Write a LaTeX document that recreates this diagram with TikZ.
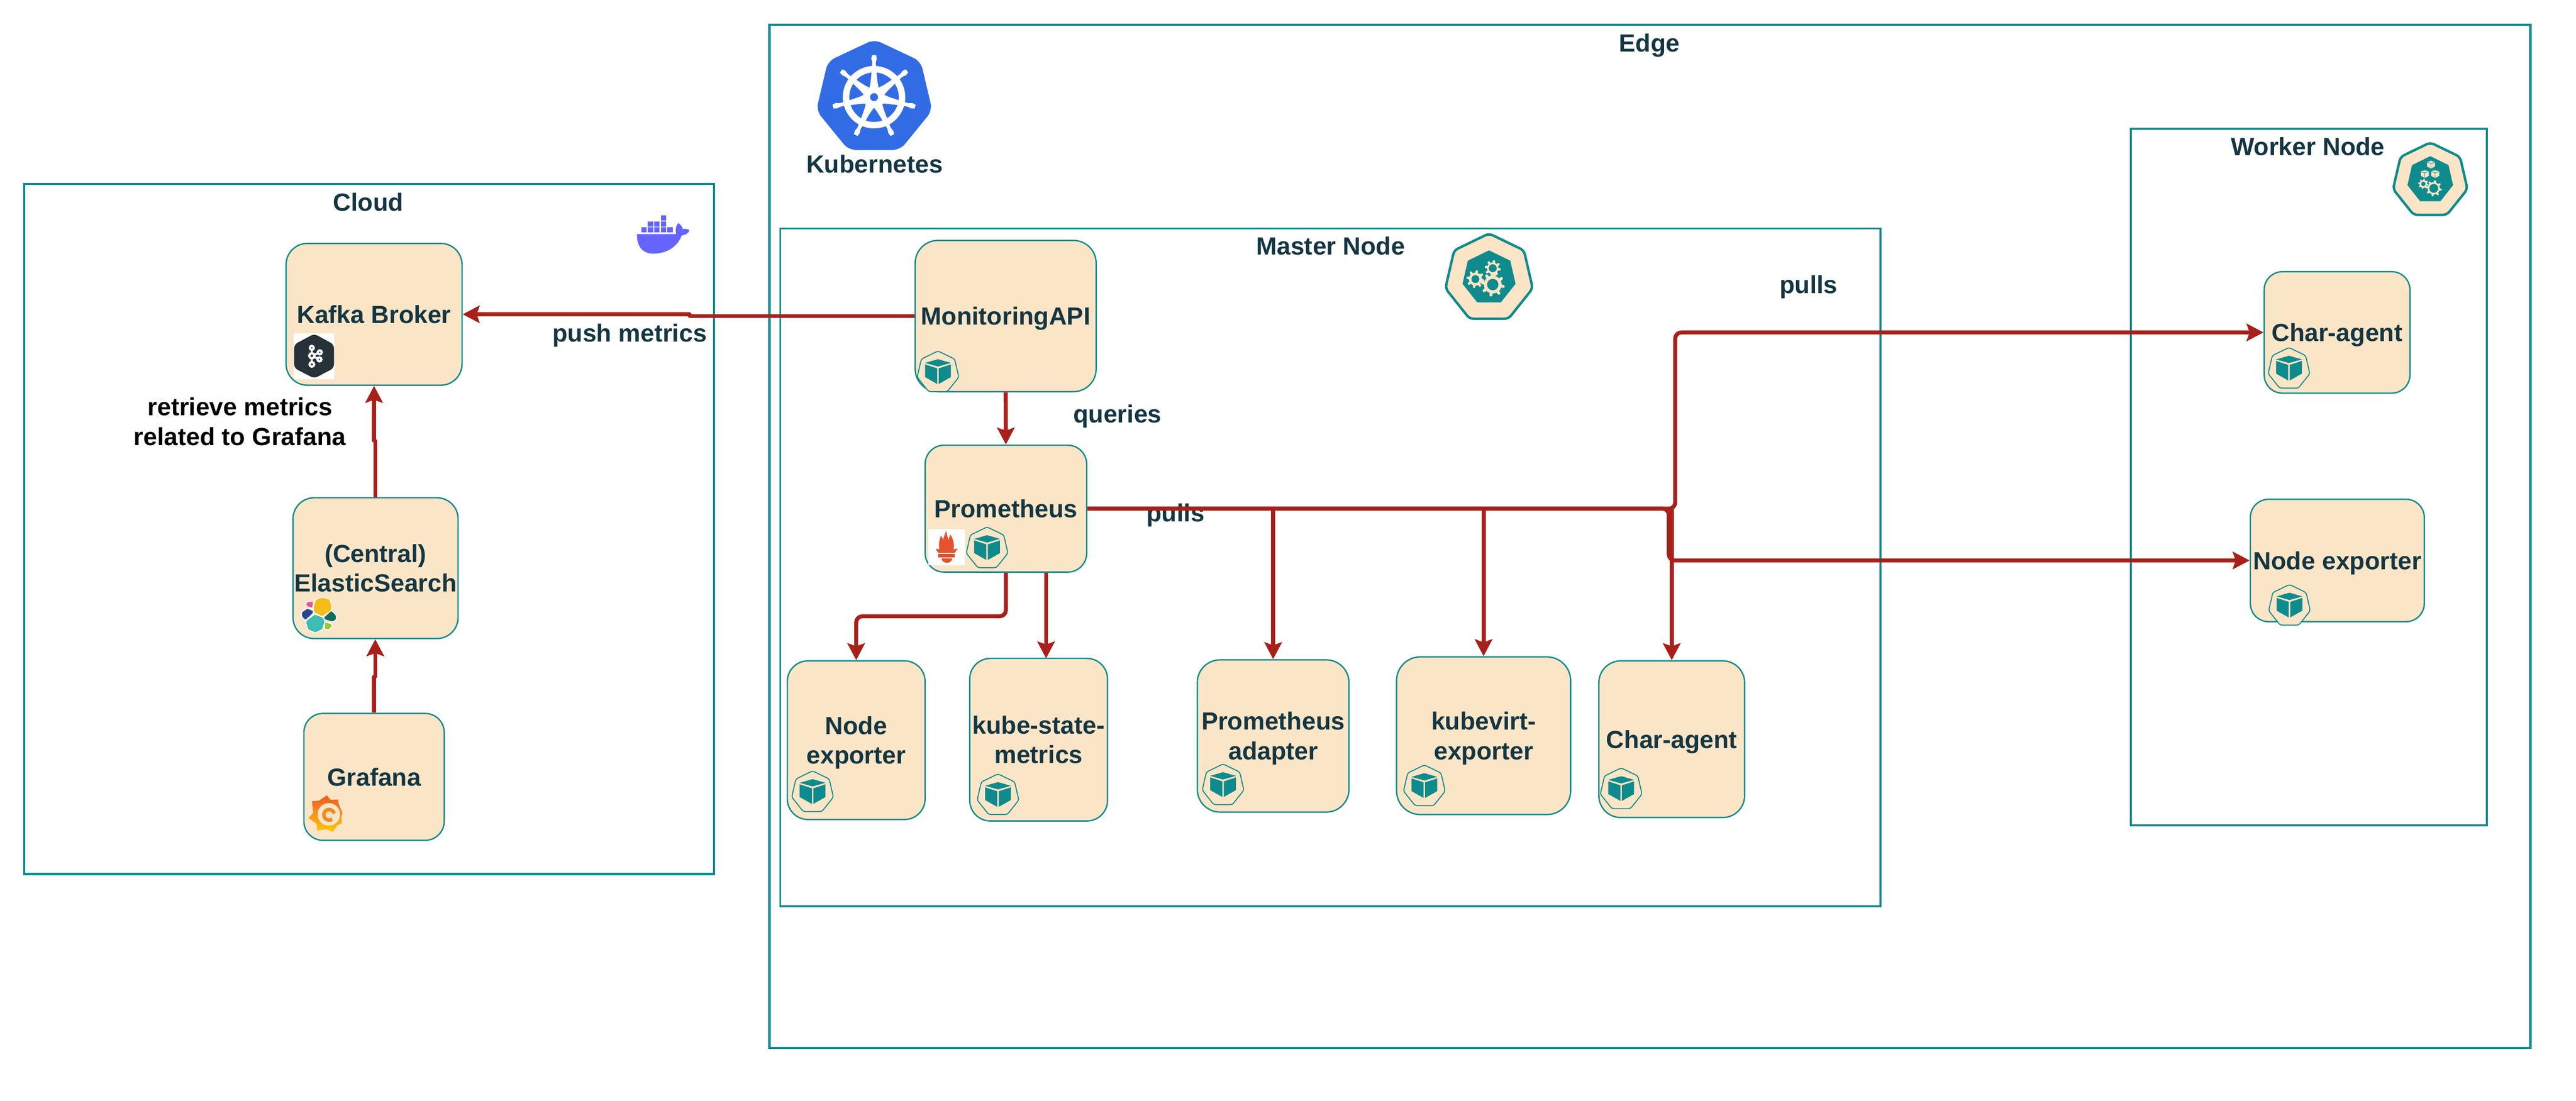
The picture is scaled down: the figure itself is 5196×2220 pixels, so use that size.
\documentclass[tikz,border=0pt]{standalone}
\usepackage{fontspec}
\setmainfont{Liberation Sans}
\usetikzlibrary{arrows.meta}
\definecolor{teal}{HTML}{0F8B8D}
\definecolor{sand}{HTML}{FAE5C7}
\definecolor{ink}{HTML}{143642}
\definecolor{wire}{HTML}{A8201A}
\definecolor{kblue}{HTML}{326CE5}
\definecolor{dockerc}{HTML}{6464FF}
\definecolor{kafkac}{HTML}{263238}
\definecolor{promc}{HTML}{E6522C}
\definecolor{elpink}{RGB}{239,80,152}
\definecolor{elyellow}{RGB}{244,189,25}
\definecolor{elblue}{RGB}{44,69,143}
\definecolor{elteal}{RGB}{62,190,176}
\definecolor{eldark}{RGB}{22,108,87}
\definecolor{ellime}{RGB}{147,200,62}
\definecolor{grtop}{RGB}{240,90,40}
\definecolor{grbot}{RGB}{251,202,10}
\definecolor{grmid}{RGB}{245,136,31}
\tikzset{
  lbl/.style={anchor=base,inner sep=0pt,align=center,text=ink,font=\fontsize{10}{12}\selectfont\bfseries},
  frame/.style={draw=teal,fill=none,inner sep=0pt,line width=0.9pt},
  svc/.style={draw=teal,fill=sand,line width=0.55pt,inner sep=0pt,align=center,text=ink,font=\fontsize{10}{12}\selectfont\bfseries},
  flow/.style={draw=wire,line width=1.6pt,rounded corners=2.5pt,-{Stealth[length=6.8pt,width=7pt,inset=1.2pt]}},
  jogflow/.style={flow,sharp corners,line join=round},
  podline/.style={draw=teal,fill=sand,line width=0.4pt,rounded corners=0.8pt}
}
\newcommand{\ls}{\rule[-2.4pt]{0pt}{12pt}}
% name x1 y1 x2 y2 text
\newcommand{\boxnode}[6]{%
  \pgfmathsetmacro{\rr}{0.03*min(#4-#2,#5-#3)}%
  \node[svc,rounded corners=\rr pt,minimum width={(#4-#2)*0.2pt},minimum height={(#5-#3)*0.2pt}] (#1) at ({(#2+#4)/2},{(#3+#5)/2}) {#6};}
\newcommand{\frameat}[6][]{%
  \node[frame,#1,minimum width={(#5-#3)*0.2pt},minimum height={(#6-#4)*0.2pt}] (#2) at ({(#3+#5)/2},{(#4+#6)/2}) {};}
% style cx cy w h
\newcommand{\hept}[5]{%
  \path[#1] ({#2},{#3-#5/2}) -- ({#2+.4*#4},{#3-#5/2+.198*#5}) -- ({#2+.5*#4},{#3-#5/2+.643*#5})
   -- ({#2+.2225*#4},{#3+#5/2}) -- ({#2-.2225*#4},{#3+#5/2}) -- ({#2-.5*#4},{#3-#5/2+.643*#5})
   -- ({#2-.4*#4},{#3-#5/2+.198*#5}) -- cycle;}
% colour cx cy scale
\newcommand{\cubeshape}[4]{%
  \begin{scope}[shift={(#2,#3)},scale=#4]
  \fill[#1] (0,-24.5) -- (26,-17) -- (0,-9.7) -- (-26,-17) -- cycle;
  \fill[#1] (-26,-14) -- (-1.5,-6) -- (-1.5,25.5) -- (-26,11.7) -- cycle;
  \fill[#1] (26,-14) -- (1.5,-6) -- (1.5,25.5) -- (26,11.7) -- cycle;
  \end{scope}}
\newcommand{\podicon}[2]{%
  \hept{podline}{#1}{#2}{84}{82}%
  \cubeshape{teal}{#1}{#2}{1}}
% cx cy R hole lw
\newcommand{\mygear}[5]{%
  \fill[sand] (#1,#2) circle [radius=#3*0.78];
  \foreach \a in {0,45,...,315}{
    \draw[sand,line width=#5,line cap=round] ({#1+#3*0.7*cos(\a+10)},{#2+#3*0.7*sin(\a+10)}) -- ({#1+#3*0.93*cos(\a+10)},{#2+#3*0.93*sin(\a+10)});
  }
  \fill[teal] (#1,#2) circle [radius=#4];}
\begin{document}
\begin{tikzpicture}[x=0.2pt,y=-0.2pt]
\path[fill=white,use as bounding box] (0,0) rectangle (5196,2220);
% containers
\frameat{edgeframe}{1552}{50}{5104}{2114}
\frameat[line width=0.75pt]{masterframe}{1574}{461}{3793}{1828}
\frameat{cloudframe}{49}{371}{1440}{1763}
\frameat{workerframe}{4298}{260}{5016}{1665}
% labels
\node[lbl] (lcloud) at (743,426) {Cloud};
\node[lbl] (ledge) at (3327,104) {Edge};
\node[lbl] (lk8s) at (1764,349) {Kubernetes};
\node[lbl] (lmaster) at (2684,514) {Master Node};
\node[lbl] (lworker) at (4655,313) {Worker Node};
\node[lbl] (lpush) at (1270,690) {push metrics};
\node[lbl,text=black] (lretr) at (484,898) {retrieve metrics\\related to Grafana};
\node[lbl] (lqueries) at (2254,853) {queries};
\node[lbl] (lpulls) at (2371,1052) {pulls};
\node[lbl] (lpullsb) at (3648,592) {pulls};
% services
\boxnode{mon}{1846}{485}{2211}{790}{MonitoringAPI\ls}
\boxnode{kafka}{577}{491}{932}{777}{Kafka Broker\ls}
\boxnode{elastic}{591}{1004}{924}{1288}{(Central)\ls\\ElasticSearch\ls}
\boxnode{grafana}{613}{1439}{896}{1695}{Grafana\ls}
\boxnode{prom}{1866}{898}{2192}{1154}{Prometheus\ls}
\boxnode{nodeexp}{1588}{1333}{1866}{1653}{Node\ls\\exporter\ls}
\boxnode{ksm}{1956}{1328}{2234}{1656}{kube-state-\ls\\metrics\ls}
\boxnode{padapter}{2415}{1331}{2721}{1638}{Prometheus\ls\\adapter\ls}
\boxnode{kubevirt}{2817}{1325}{3168}{1643}{kubevirt-\ls\\exporter\ls}
\boxnode{charm}{3225}{1333}{3519}{1649}{Char-agent\ls}
\boxnode{charw}{4567}{548}{4861}{793}{Char-agent\ls}
\boxnode{nodew}{4539}{1007}{4890}{1254}{Node exporter\ls}
% connector way points
\coordinate (jogpush) at (1391,636);
\coordinate (jogret) at (757,889);
\coordinate (joggraf) at (757,1365);
\coordinate (elbowne) at (1727,1243);
\coordinate (ksmx) at (2110,1328);
\coordinate (upx) at (3379,669);
\coordinate (downx) at (3366,1130);
% connectors
\draw[jogflow] (mon.west) -- (jogpush |- mon.west) -- (jogpush |- kafka.east) -- (kafka.east);
\draw[flow] (mon.south) -- (prom.north);
\draw[flow] (prom.south) -- (prom.south |- elbowne) -- (nodeexp.north |- elbowne) -- (nodeexp.north);
\draw[flow] (prom.south -| ksmx) -- (ksmx);
\draw[flow] (prom.east) -- (upx |- prom.east) -- (upx |- charw.west) -- (charw.west);
\draw[flow] (prom.east) -- (downx |- prom.east) -- (downx |- nodew.west) -- (nodew.west);
\draw[flow] (padapter.north |- prom.east) -- (padapter.north);
\draw[flow] (kubevirt.north |- prom.east) -- (kubevirt.north);
\draw[flow] (charm.north |- prom.east) -- (charm.north);
\draw[jogflow] (elastic.north -| jogret) -- (jogret) -- (kafka.south |- jogret) -- (kafka.south);
\draw[jogflow] (grafana.north) -- (grafana.north |- joggraf) -- (joggraf) -- (joggraf |- elastic.south);
% pod icons
\podicon{1892}{749}
\podicon{1991}{1104}
\podicon{1639}{1596}
\podicon{2013}{1602}
\podicon{2467}{1582}
\podicon{2873}{1584}
\podicon{3270}{1590}
\podicon{4617}{742}
\podicon{4618}{1220}
% kubernetes logo
\hept{fill=kblue,rounded corners=3pt}{1763.5}{191}{234}{223}
\begin{scope}[shift={(1763,196)}]
  \fill[white,even odd rule] (0,0) circle [radius=63] (0,0) circle [radius=50];
  \fill[white] (0,0) circle [radius=16];
  \foreach \k in {0,...,6}{
    \begin{scope}[rotate={90+\k*51.4286}]
      \fill[white] (10,-11) -- (30,-7) -- (50,-5) -- (70,-3.5) -- (78,-5.5) -- (85,-4) -- (85,4) -- (78,5.5) -- (70,3.5) -- (50,5) -- (30,7) -- (10,11) -- cycle;
    \end{scope}
  }
  \fill[kblue] (0,0) circle [radius=8];
\end{scope}
% master node icon
\hept{draw=teal,fill=sand,line width=1pt,rounded corners=1.6pt}{3003.5}{557}{176}{172}
\hept{fill=teal}{3003.5}{557.5}{107}{105}
\mygear{3011}{574}{23}{11.5}{1.2pt}
\mygear{2976}{563}{17}{8}{1pt}
\mygear{3011}{541}{15}{8}{1pt}
% worker node icon
\hept{draw=teal,fill=sand,line width=1pt,rounded corners=1.6pt}{4902}{360.5}{150}{146}
\hept{fill=teal}{4902}{360.5}{92}{91}
\cubeshape{sand}{4903.5}{332}{0.31}
\cubeshape{sand}{4891}{351}{0.31}
\cubeshape{sand}{4912}{351}{0.31}
\mygear{4888}{371}{10}{4.5}{0.6pt}
\mygear{4909}{380}{16}{9}{0.8pt}
% docker logo
\begin{scope}[shift={(1270,425)},scale=0.3333]
  \fill[dockerc] (45,142) -- (282,142) .. controls (276,110) and (280,90) .. (295,75) .. controls (310,85) and (320,100) .. (322,112) .. controls (340,106) and (355,112) .. (362,120) .. controls (355,138) and (335,148) .. (315,150) .. controls (295,205) and (240,260) .. (140,260) .. controls (70,258) and (42,205) .. (45,142) -- cycle;
  \foreach \x/\y in {70/100,110/100,150/100,190/100,228/100,110/66,150/66,190/66,190/28}
    \fill[dockerc] (\x,\y) rectangle ++(32,32);
\end{scope}
% kafka logo
\fill[white] (592,672) rectangle (674,765);
\begin{scope}[shift={(585,665)},scale=0.3333]
  \fill[kafkac,rounded corners=1.5pt] (147,25) -- (266,90) -- (266,232) -- (147,295) -- (25,232) -- (25,90) -- cycle;
  \draw[white,line width=0.8pt] (132,110) -- (132,210) (132,158) -- (180,137) (132,158) -- (178,180);
  \foreach \x/\y/\r in {132/110/12,132/158/16,180/137/12,178/180/12,132/210/14}
    \draw[white,fill=kafkac,line width=0.9pt] (\x,\y) circle [radius=\r];
\end{scope}
% prometheus logo
\fill[white] (1873,1067) rectangle (1946,1140);
\begin{scope}[shift={(1870,1060)},scale=0.3333]
  \fill[promc] (52,140) -- (74,144) .. controls (68,115) and (75,80) .. (85,60) .. controls (90,70) and (95,80) .. (97,90) .. controls (100,70) and (108,50) .. (115,33) .. controls (120,55) and (126,70) .. (128,90) .. controls (132,78) and (136,66) .. (142,55) .. controls (155,80) and (168,110) .. (160,144) -- (185,140) -- (168,165) -- (67,165) -- cycle;
  \fill[promc] (67,172) rectangle (168,192);
  \fill[promc] (87,198) -- (152,198) .. controls (150,235) and (90,235) .. (87,198) -- cycle;
\end{scope}
% elastic logo
\begin{scope}[shift={(550,1200)},scale=0.3333,draw=white,line width=0.35pt,rounded corners=0.5pt]
  \filldraw[fill=elpink] (203,42) -- (247,36) -- (242,82) -- (203,70) -- cycle;
  \filldraw[fill=elyellow] (245,75) -- (258,28) -- (300,13) -- (345,25) -- (360,70) -- (355,95) -- (300,132) -- (247,105) -- cycle;
  \filldraw[fill=elblue] (210,80) -- (247,95) -- (245,112) -- (200,155) -- (176,135) -- (173,105) -- cycle;
  \filldraw[fill=elteal] (255,116) -- (305,135) -- (317,160) -- (303,208) -- (260,230) -- (213,212) -- (199,165) -- (205,153) -- cycle;
  \filldraw[fill=eldark] (355,93) -- (385,122) -- (385,152) -- (360,164) -- (313,150) -- (308,135) -- cycle;
  \filldraw[fill=ellime] (316,163) -- (358,175) -- (358,195) -- (337,212) -- (313,207) -- cycle;
\end{scope}
% grafana logo
\begin{scope}[shift={(550,1200)},scale=0.3333]
  \shade[top color=grtop,bottom color=grbot]
    (328,1213) -- (350,1240) -- (395,1238) -- (400,1265) -- (423,1320) -- (415,1345) -- (420,1380) -- (390,1395) -- (365,1435) -- (325,1418) -- (270,1427) -- (265,1385) -- (217,1350) -- (245,1320) -- (238,1248) -- (280,1245) -- cycle;
  \fill[sand] (340,1328) circle [radius=68];
  \draw[grmid,line width=1.4pt] (360,1357) arc [start angle=55,end angle=345,radius=32];
\end{scope}
\end{tikzpicture}
\end{document}
